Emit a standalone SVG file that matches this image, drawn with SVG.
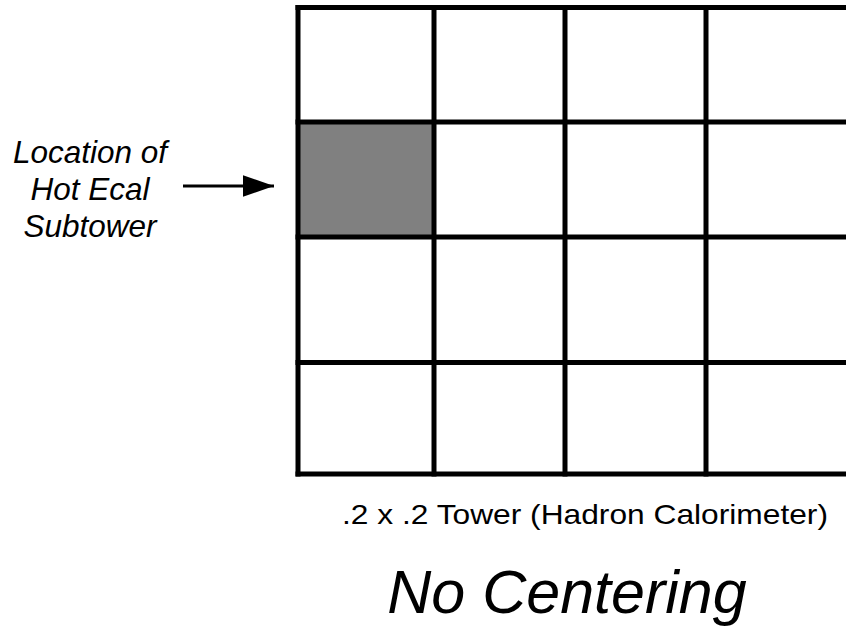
<svg xmlns="http://www.w3.org/2000/svg" width="846" height="630" viewBox="0 0 846 630">
  <defs>
    <style>
      .grid { stroke: #000; stroke-width: 5; fill: none; }
      .lbl { font-family: "Liberation Sans", Arial, sans-serif; fill: #000; }
      .it { font-style: italic; }
    </style>
    <marker id="arrow" viewBox="0 0 10 7" refX="10" refY="3.5" markerUnits="userSpaceOnUse" markerWidth="31" markerHeight="22" orient="auto">
      <polygon points="0,0 10,3.5 0,7" fill="#000"/>
    </marker>
  </defs>
  <rect width="846" height="630" fill="#fff"/>
  <g id="hot-subtower">
    <rect x="298" y="122" width="136" height="115" fill="#808080"/>
  </g>
  <g id="tower-grid">
    <line class="grid" x1="298" y1="5" x2="298" y2="476.5"/>
    <line class="grid" x1="434" y1="5" x2="434" y2="476.5"/>
    <line class="grid" x1="565" y1="5" x2="565" y2="476.5"/>
    <line class="grid" x1="706" y1="5" x2="706" y2="476.5"/>
    <line class="grid" x1="295.5" y1="7.5" x2="846" y2="7.5"/>
    <line class="grid" x1="295.5" y1="122" x2="846" y2="122"/>
    <line class="grid" x1="295.5" y1="237" x2="846" y2="237"/>
    <line class="grid" x1="295.5" y1="362.5" x2="846" y2="362.5"/>
    <line class="grid" x1="295.5" y1="474" x2="846" y2="474"/>
  </g>
  <g id="hot-label">
    <text class="lbl it" font-size="31.5" text-anchor="middle" x="90" y="163">Location of</text>
    <text class="lbl it" font-size="31.5" text-anchor="middle" x="90" y="200">Hot Ecal</text>
    <text class="lbl it" font-size="31.5" text-anchor="middle" x="90" y="237">Subtower</text>
  </g>
  <g id="connectors">
    <line x1="183" y1="186" x2="274" y2="186" stroke="#000" stroke-width="3" marker-end="url(#arrow)"/>
  </g>
  <g id="tower-caption">
    <text class="lbl" font-size="28" text-anchor="middle" x="585" y="524" textLength="486" lengthAdjust="spacingAndGlyphs">.2 x .2 Tower (Hadron Calorimeter)</text>
  </g>
  <g id="title">
    <text class="lbl it" font-size="61" text-anchor="middle" x="567" y="613">No Centering</text>
  </g>
</svg>
